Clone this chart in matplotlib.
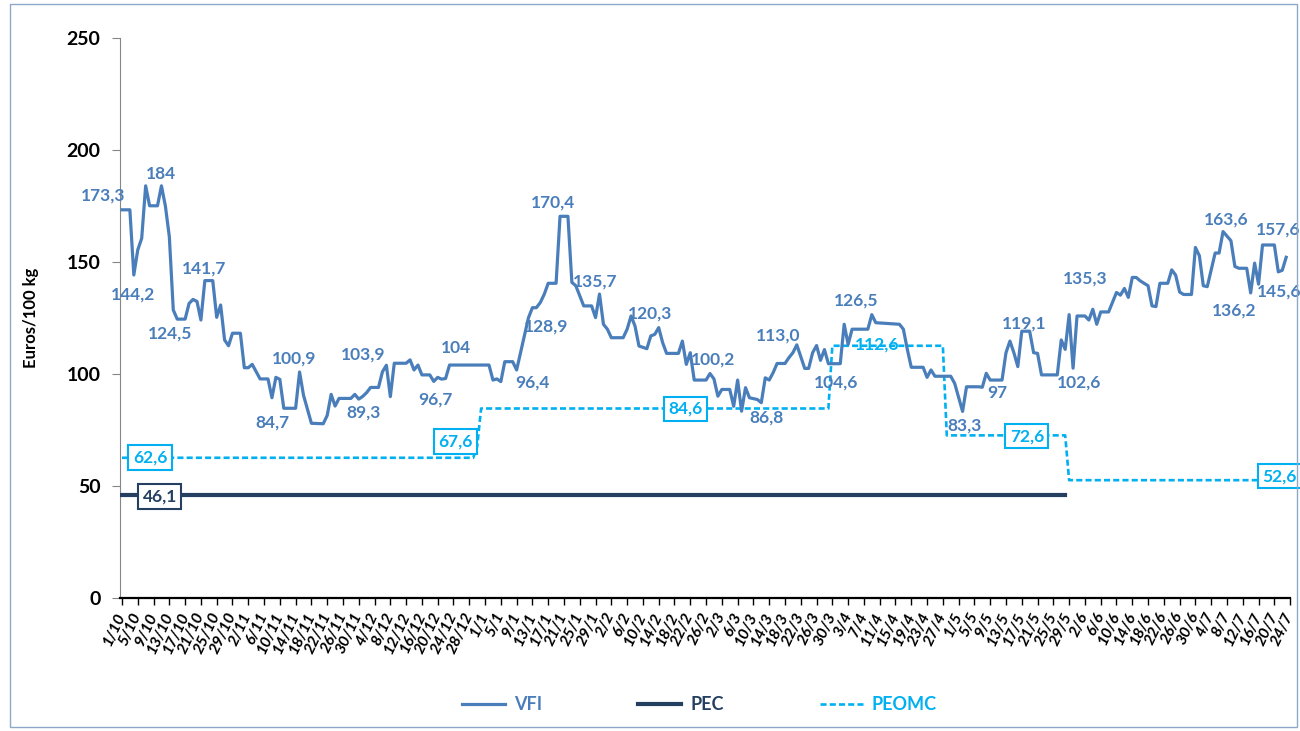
import numpy as np
import pandas as pd
import matplotlib
matplotlib.use('Agg')
import matplotlib.pyplot as plt

plt.rcParams['font.family'] = ['Lato', 'DejaVu Sans']

# VFI : day offset from 1/10 and price (Euros/100 kg)
vfi_day = [0, 2, 3, 4, 5, 6, 7, 9, 10, 11, 12, 13, 14, 16, 17, 18, 19, 20, 21, 23,
           24, 25, 26, 27, 28, 30, 31, 32, 33, 35, 37, 38, 39, 40, 41, 44, 45, 46, 48, 51,
           52, 53, 54, 55, 58, 59, 60, 61, 62, 63, 65, 66, 67, 68, 69, 72, 73, 74, 75, 76,
           78, 79, 80, 81, 82, 83, 93, 94, 95, 96, 97, 99, 100, 101, 102, 103, 104, 105, 106, 107,
           108, 110, 111, 113, 114, 115, 116, 117, 119, 120, 121, 122, 123, 124, 127, 128, 129, 130, 131, 133,
           134, 135, 136, 137, 138, 141, 142, 143, 144, 145, 148, 149, 150, 151, 152, 154, 155, 156, 157, 158,
           159, 161, 162, 163, 164, 165, 166, 168, 169, 170, 171, 173, 174, 175, 176, 177, 178, 179, 182, 183,
           184, 185, 189, 190, 191, 197, 198, 199, 200, 203, 204, 205, 206, 210, 211, 212, 213, 214, 217, 218,
           219, 220, 223, 224, 225, 226, 227, 228, 230, 231, 232, 233, 237, 238, 239, 240, 241, 242, 244, 245,
           246, 247, 248, 250, 252, 253, 254, 255, 256, 257, 258, 260, 261, 262, 263, 265, 266, 267, 268, 269,
           271, 272, 273, 274, 275, 277, 278, 279, 281, 282, 283, 285, 286, 287, 288, 289, 292, 293, 294, 295]
vfi_val = [173.3, 173.3, 144.2, 155.4, 160.6, 184.0, 175.1, 175.1, 184.0, 175.0, 161.3, 128.6, 124.5, 124.5, 131.5, 133.3, 132.4, 124.1, 141.7, 141.7,
           125.3, 130.8, 115.2, 112.6, 118.2, 118.2, 102.8, 102.8, 104.3, 97.8, 97.8, 89.4, 98.5, 97.6, 84.7, 84.7, 100.9, 90.5, 78.0, 77.8,
           81.5, 90.9, 85.7, 89.1, 89.1, 90.9, 88.8, 90.0, 91.7, 94.0, 94.0, 101.0, 103.9, 89.9, 104.8, 104.8, 106.3, 101.8, 104.0, 99.6,
           99.6, 96.7, 98.5, 97.7, 98.0, 104.0, 104.0, 97.3, 97.8, 96.6, 105.5, 105.5, 101.8, 109.5, 117.0, 125.1, 129.6, 129.6, 131.9, 135.6,
           140.5, 140.5, 170.4, 170.4, 140.9, 139.4, 134.9, 130.4, 130.4, 125.2, 135.7, 122.2, 120.0, 116.2, 116.2, 120.0, 125.9, 121.4, 112.5, 111.3,
           117.0, 117.7, 120.7, 114.0, 109.2, 109.2, 114.7, 104.3, 109.5, 97.3, 97.3, 100.2, 97.8, 90.1, 93.1, 93.1, 85.6, 97.3, 83.4, 93.9,
           89.4, 88.6, 87.2, 98.3, 97.3, 100.6, 104.7, 104.7, 107.3, 109.5, 113.0, 102.5, 102.5, 109.5, 112.7, 106.1, 110.9, 104.6, 104.6, 122.2,
           113.2, 120.0, 120.0, 126.5, 122.9, 122.2, 120.0, 111.0, 103.0, 103.0, 98.5, 101.8, 99.0, 99.0, 95.8, 89.5, 83.3, 94.3, 94.3, 94.1,
           100.3, 97.3, 97.3, 109.5, 114.7, 109.5, 103.3, 119.1, 119.1, 109.5, 109.2, 99.6, 99.6, 115.2, 111.0, 126.5, 102.6, 125.9, 125.9, 124.1,
           128.9, 122.2, 127.7, 127.7, 136.4, 135.2, 138.2, 134.2, 143.1, 143.1, 141.6, 139.4, 130.4, 130.1, 140.5, 140.5, 146.5, 144.1, 136.6, 135.5,
           135.5, 156.5, 152.8, 139.4, 139.0, 154.0, 154.0, 163.6, 159.5, 148.0, 147.2, 147.2, 136.2, 149.5, 140.1, 157.6, 157.6, 145.6, 146.3, 152.1]

# PEC
pec_day = [0, 239]
pec_val = [46.1, 46.1]

# PEOMC
peomc_day = [0, 89, 90, 91, 179, 180, 208, 209, 239, 240, 298]
peomc_val = [62.6, 62.6, 67.6, 84.6, 84.6, 112.6, 112.6, 72.6, 72.6, 52.6, 52.6]

# data labels
vfi_lab = ['173,3', '184', '144,2', '124,5', '141,7', '84,7', '100,9', '89,3', '103,9', '96,7',
           '104', '96,4', '128,9', '170,4', '135,7', '120,3', '100,2', '86,8', '113,0', '104,6',
           '126,5', '83,3', '97', '119,1', '102,6', '135,3', '163,6', '136,2', '157,6', '145,6']
vfi_lab_pos = [(-4.8, 179.5), (9.9, 189.1), (2.8, 135.4), (12.3, 118.0), (20.8, 147.0),
               (38.0, 78.5), (43.6, 106.7), (61.3, 82.7), (61.2, 108.5), (79.4, 88.8),
               (84.7, 111.5), (103.9, 96.1), (107.4, 121.4), (109.1, 176.4), (119.8, 141.2),
               (133.7, 127.1), (149.8, 106.5), (163.2, 80.4), (166.2, 117.3), (180.9, 96.4),
               (186.1, 133.0), (213.4, 77.1), (221.7, 91.3), (228.7, 122.6), (242.4, 96.4),
               (244.1, 142.6), (279.8, 168.8), (281.7, 128.5), (293.0, 164.4), (293.3, 136.7)]
peomc_lab = ['62,6', '67,6', '84,6', '112,6', '72,6', '52,6']
peomc_lab_pos = [(7.1, 62.6), (84.5, 70.0), (142.8, 84.4), (191.4, 113.2), (229.3, 72.3), (293.4, 54.4)]
peomc_boxed = [True, True, True, False, True, True]
pec_lab = '46,1'
pec_lab_pos = (9.6, 45.4)

tick_dates = pd.date_range('2018-10-01', '2019-07-24', freq='4D')
tick_days = [(d - tick_dates[0]).days for d in tick_dates]
tick_labels = [f'{d.day}/{d.month}' for d in tick_dates]

c_vfi = '#4A7EBB'
c_pec = '#243F60'
c_peomc = '#00B0F0'

fig = plt.figure(figsize=(13, 7.31), dpi=100)
ax = fig.add_axes([120 / 1300, 1 - 598 / 731, 1180 / 1300, 560 / 731])

ax.plot(vfi_day, vfi_val, color=c_vfi, lw=2.3, label='VFI', zorder=4)
ax.plot(pec_day, pec_val, color=c_pec, lw=3.0, label='PEC', zorder=3)
ax.plot(peomc_day, peomc_val, color=c_peomc, lw=1.9, ls=(0, (2.3, 1.2)), label='PEOMC',
        zorder=3, clip_on=False)

for t, (d, v) in zip(vfi_lab, vfi_lab_pos):
    ax.text(d, v, t, color=c_vfi, fontsize=12.5, fontweight='bold', ha='center', va='center', zorder=6)

for t, (d, v), boxed in zip(peomc_lab, peomc_lab_pos, peomc_boxed):
    bb = dict(boxstyle='square,pad=0.25', fc='white', ec=c_peomc, lw=1.5) if boxed else None
    ax.text(d, v, t, color=c_peomc, fontsize=12.5, fontweight='bold', ha='center', va='center',
            bbox=bb, zorder=7)

ax.text(pec_lab_pos[0], pec_lab_pos[1], pec_lab, color=c_pec, fontsize=12.5, fontweight='bold',
        ha='center', va='center', zorder=7,
        bbox=dict(boxstyle='square,pad=0.25', fc='white', ec=c_pec, lw=1.5))

ax.set_xlim(-0.5, 298.5)
ax.set_ylim(0, 250)
ax.set_yticks(range(0, 251, 50))
ax.set_xticks(tick_days)
ax.set_xticklabels(tick_labels, rotation=65, ha='right', va='center', rotation_mode='anchor',
                   fontsize=11.5, fontweight='bold', fontstyle='italic')
for lab in ax.get_yticklabels():
    lab.set_fontweight('bold')
    lab.set_fontsize(14)

ax.spines['top'].set_visible(False)
ax.spines['right'].set_visible(False)
ax.spines['left'].set_color('#868686')
ax.spines['bottom'].set_linewidth(1.6)
ax.spines['bottom'].set_bounds(-0.5, 296)
ax.tick_params(axis='y', length=6, color='#868686', pad=8)
ax.tick_params(axis='x', length=5, width=1, pad=6)

ax.set_ylabel('Euros/100 kg', fontsize=12, fontweight='bold', labelpad=20)

fig.legend(loc='center', bbox_to_anchor=(0.538, 0.036), ncol=3, frameon=False,
           handlelength=2.4, columnspacing=5.3, handletextpad=0.5, labelcolor='linecolor',
           prop={'size': 13, 'weight': 'bold'})

fig.patches.append(plt.Rectangle((0.008, 0.005), 0.99, 0.99, transform=fig.transFigure,
                                 fill=False, ec='#8EA9C8', lw=1))

fig.savefig('out.png', dpi=100)
